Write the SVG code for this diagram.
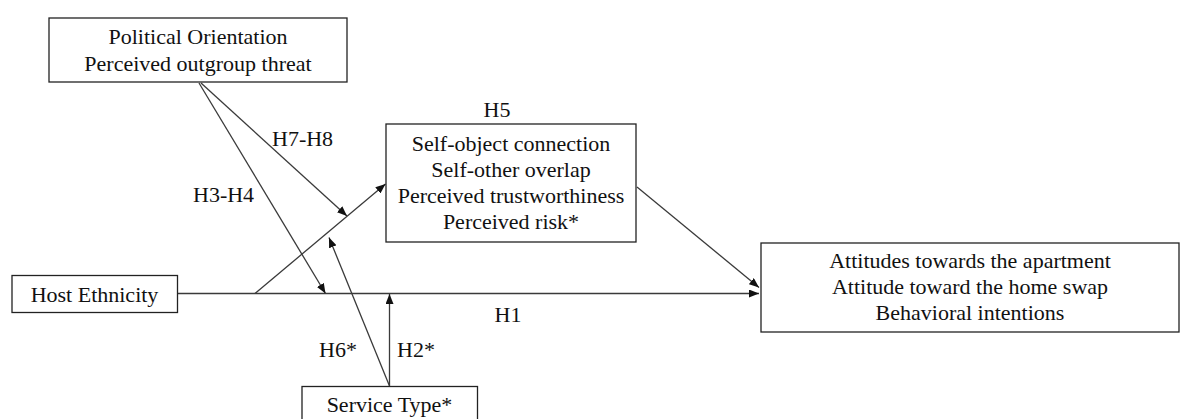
<svg xmlns="http://www.w3.org/2000/svg" width="1181" height="419" viewBox="0 0 1181 419">
  <defs>
    <style>
      .box { fill: #ffffff; stroke: #222222; stroke-width: 1.3; }
      .lbl { font-family: "Liberation Serif", "Times New Roman", serif; font-size: 22px; fill: #111111; }
      .mid { text-anchor: middle; }
      .conn { stroke: #3a3a3a; stroke-width: 1.3; fill: none; }
    </style>
    <marker id="arrow" viewBox="0 0 10 8" refX="10" refY="4" markerWidth="10" markerHeight="8" markerUnits="userSpaceOnUse" orient="auto">
      <path d="M0,0 L10,4 L0,8 Z" fill="#111111"/>
    </marker>
  </defs>
  <rect width="1181" height="419" fill="#ffffff"/>

  <!-- connectors -->
  <g id="connectors">
    <!-- H1: host ethnicity to outcomes -->
    <line class="conn" x1="178" y1="293.5" x2="759" y2="293.5" marker-end="url(#arrow)"/>
    <!-- host ethnicity to mediators -->
    <line class="conn" x1="255" y1="293.5" x2="385.5" y2="184" marker-end="url(#arrow)"/>
    <!-- mediators to outcomes -->
    <line class="conn" x1="637" y1="187" x2="759" y2="287.5" marker-end="url(#arrow)"/>
    <!-- H7-H8: moderators onto mediation path -->
    <line class="conn" x1="201" y1="83" x2="347" y2="216" marker-end="url(#arrow)"/>
    <!-- H3-H4: moderators onto direct path -->
    <line class="conn" x1="199" y1="83" x2="325.5" y2="293.5" marker-end="url(#arrow)"/>
    <!-- H6*: service type onto mediation path -->
    <line class="conn" x1="389.5" y1="386" x2="329" y2="237.5" marker-end="url(#arrow)"/>
    <!-- H2*: service type onto direct path -->
    <line class="conn" x1="389.5" y1="386" x2="389.5" y2="294" marker-end="url(#arrow)"/>
  </g>

  <!-- path labels -->
  <g id="path-labels">
    <text class="lbl mid" x="497" y="117">H5</text>
    <text class="lbl" x="272" y="146">H7-H8</text>
    <text class="lbl" x="193" y="202">H3-H4</text>
    <text class="lbl mid" x="508" y="322">H1</text>
    <text class="lbl mid" x="338" y="357">H6*</text>
    <text class="lbl" x="397" y="357">H2*</text>
  </g>

  <g id="node-moderators">
    <rect class="box" x="49" y="18" width="298" height="64"/>
    <text class="lbl mid" x="198" y="44">Political Orientation</text>
    <text class="lbl mid" x="198" y="71">Perceived outgroup threat</text>
  </g>

  <g id="node-mediators">
    <rect class="box" x="386" y="124" width="250" height="118"/>
    <text class="lbl mid" x="511" y="151">Self-object connection</text>
    <text class="lbl mid" x="511" y="177">Self-other overlap</text>
    <text class="lbl mid" x="511" y="203">Perceived trustworthiness</text>
    <text class="lbl mid" x="511" y="229">Perceived risk*</text>
  </g>

  <g id="node-host-ethnicity">
    <rect class="box" x="12" y="275.5" width="165.5" height="37"/>
    <text class="lbl mid" x="94.5" y="302">Host Ethnicity</text>
  </g>

  <g id="node-outcomes">
    <rect class="box" x="761" y="243" width="418" height="89"/>
    <text class="lbl mid" x="970" y="267.5">Attitudes towards the apartment</text>
    <text class="lbl mid" x="970" y="293.5">Attitude toward the home swap</text>
    <text class="lbl mid" x="970" y="320">Behavioral intentions</text>
  </g>

  <g id="node-service-type">
    <rect class="box" x="302" y="386.5" width="175.5" height="40"/>
    <text class="lbl mid" x="389.5" y="412">Service Type*</text>
  </g>
</svg>
